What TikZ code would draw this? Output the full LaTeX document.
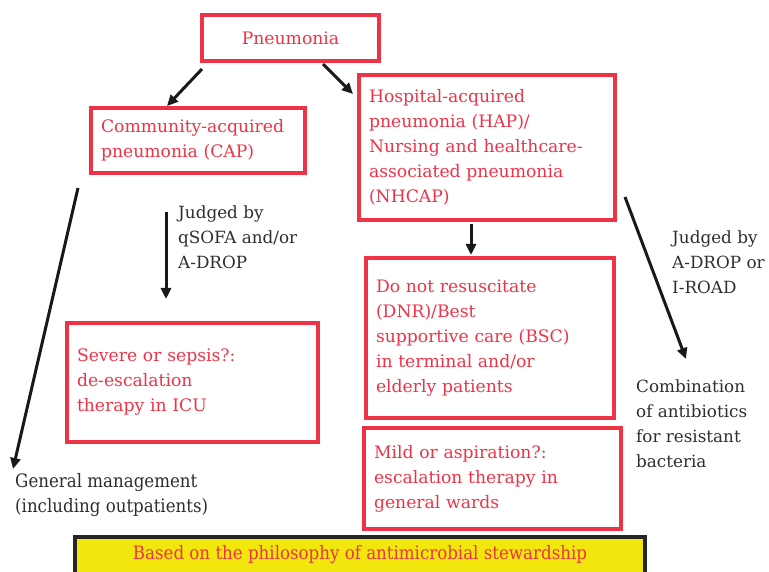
\documentclass[tikz,border=0pt]{standalone}
\usepackage{fontspec}
\setmainfont{DejaVu Serif}
\newfontfamily\condfont[FakeStretch=0.9]{DejaVu Serif}
\usetikzlibrary{arrows.meta}
\definecolor{boxred}{HTML}{EE3347}
\definecolor{txtgray}{HTML}{2E2E2E}
\definecolor{banneryellow}{HTML}{F2E70C}
\tikzset{
  redbox/.style={draw=boxred, line width=3.4pt, text=boxred, align=left,
    inner xsep=10pt, inner ysep=0pt, font=\fontsize{17.2}{25}\selectfont},
  note/.style={text=txtgray, align=left, anchor=north west, inner sep=0pt,
    font=\fontsize{16.8}{25}\selectfont},
  arr/.style={-{Triangle[length=11pt,width=10pt]}, line width=3pt, draw=black!90}
}
\begin{document}
\begin{tikzpicture}[x=1pt,y=-1pt]
\useasboundingbox (0,0) rectangle (769,572);
\node[redbox, align=center, minimum width=177pt, minimum height=46pt] (pneu) at (290.5,38){Pneumonia};
\node[redbox, minimum width=214pt, minimum height=65pt, text width=194pt] (cap) at (198,140.5){Community-acquired\\pneumonia (CAP)};
\node[redbox, minimum width=256pt, minimum height=145pt, text width=236pt] (hap) at (487,147.5){Hospital-acquired\\pneumonia (HAP)/\\Nursing and healthcare-\\associated pneumonia\\(NHCAP)};
\node[redbox, minimum width=248pt, minimum height=160pt, text width=228pt] (dnr) at (490,338){Do not resuscitate\\(DNR)/Best\\supportive care (BSC)\\in terminal and/or\\elderly patients};
\node[redbox, minimum width=257pt, minimum height=101pt, text width=237pt] (mild) at (492.5,478.5){Mild or aspiration?:\\escalation therapy in\\general wards};
\node[redbox, minimum width=251pt, minimum height=119pt, text width=231pt] (severe) at (192.5,382.5){Severe or sepsis?:\\de-escalation\\therapy in ICU};
\node[note] (judged1) at (178,206){Judged by\\qSOFA and/or\\A-DROP};
\node[note] (judged2) at (672,231){Judged by\\A-DROP or\\I-ROAD};
\node[note] (combi) at (636,380){Combination\\of antibiotics\\for resistant\\bacteria};
\node[note, font=\condfont\fontsize{18.5}{25}\selectfont] (general) at (15,473){General management\\(including outpatients)};
\node[draw=black!85, line width=3.4pt, fill=banneryellow, text=boxred, anchor=base,
  minimum width=570pt, text height=14pt, text depth=34pt, inner ysep=8pt,
  font=\condfont\fontsize{18.5}{25}\selectfont] (banner) at (360,559){Based on the philosophy of antimicrobial stewardship};
% arrow ends
\coordinate (a1) at (202,69);
\coordinate (b1) at (167,106);
\coordinate (a2) at (323,64);
\coordinate (b2) at (353,94);
\coordinate (a3) at (78,188);
\coordinate (b3) at (13,469);
\coordinate (a4) at (166,212);
\coordinate (b4) at (166,299);
\coordinate (a5) at (471,224);
\coordinate (b5) at (471,255);
\coordinate (a6) at (625,197);
\coordinate (b6) at (686,359);
\draw[arr](a1) -- (b1);
\draw[arr](a2) -- (b2);
\draw[arr](a3) -- (b3);
\draw[arr](a4) -- (b4);
\draw[arr](a5) -- (b5);
\draw[arr](a6) -- (b6);
\end{tikzpicture}
\end{document}
